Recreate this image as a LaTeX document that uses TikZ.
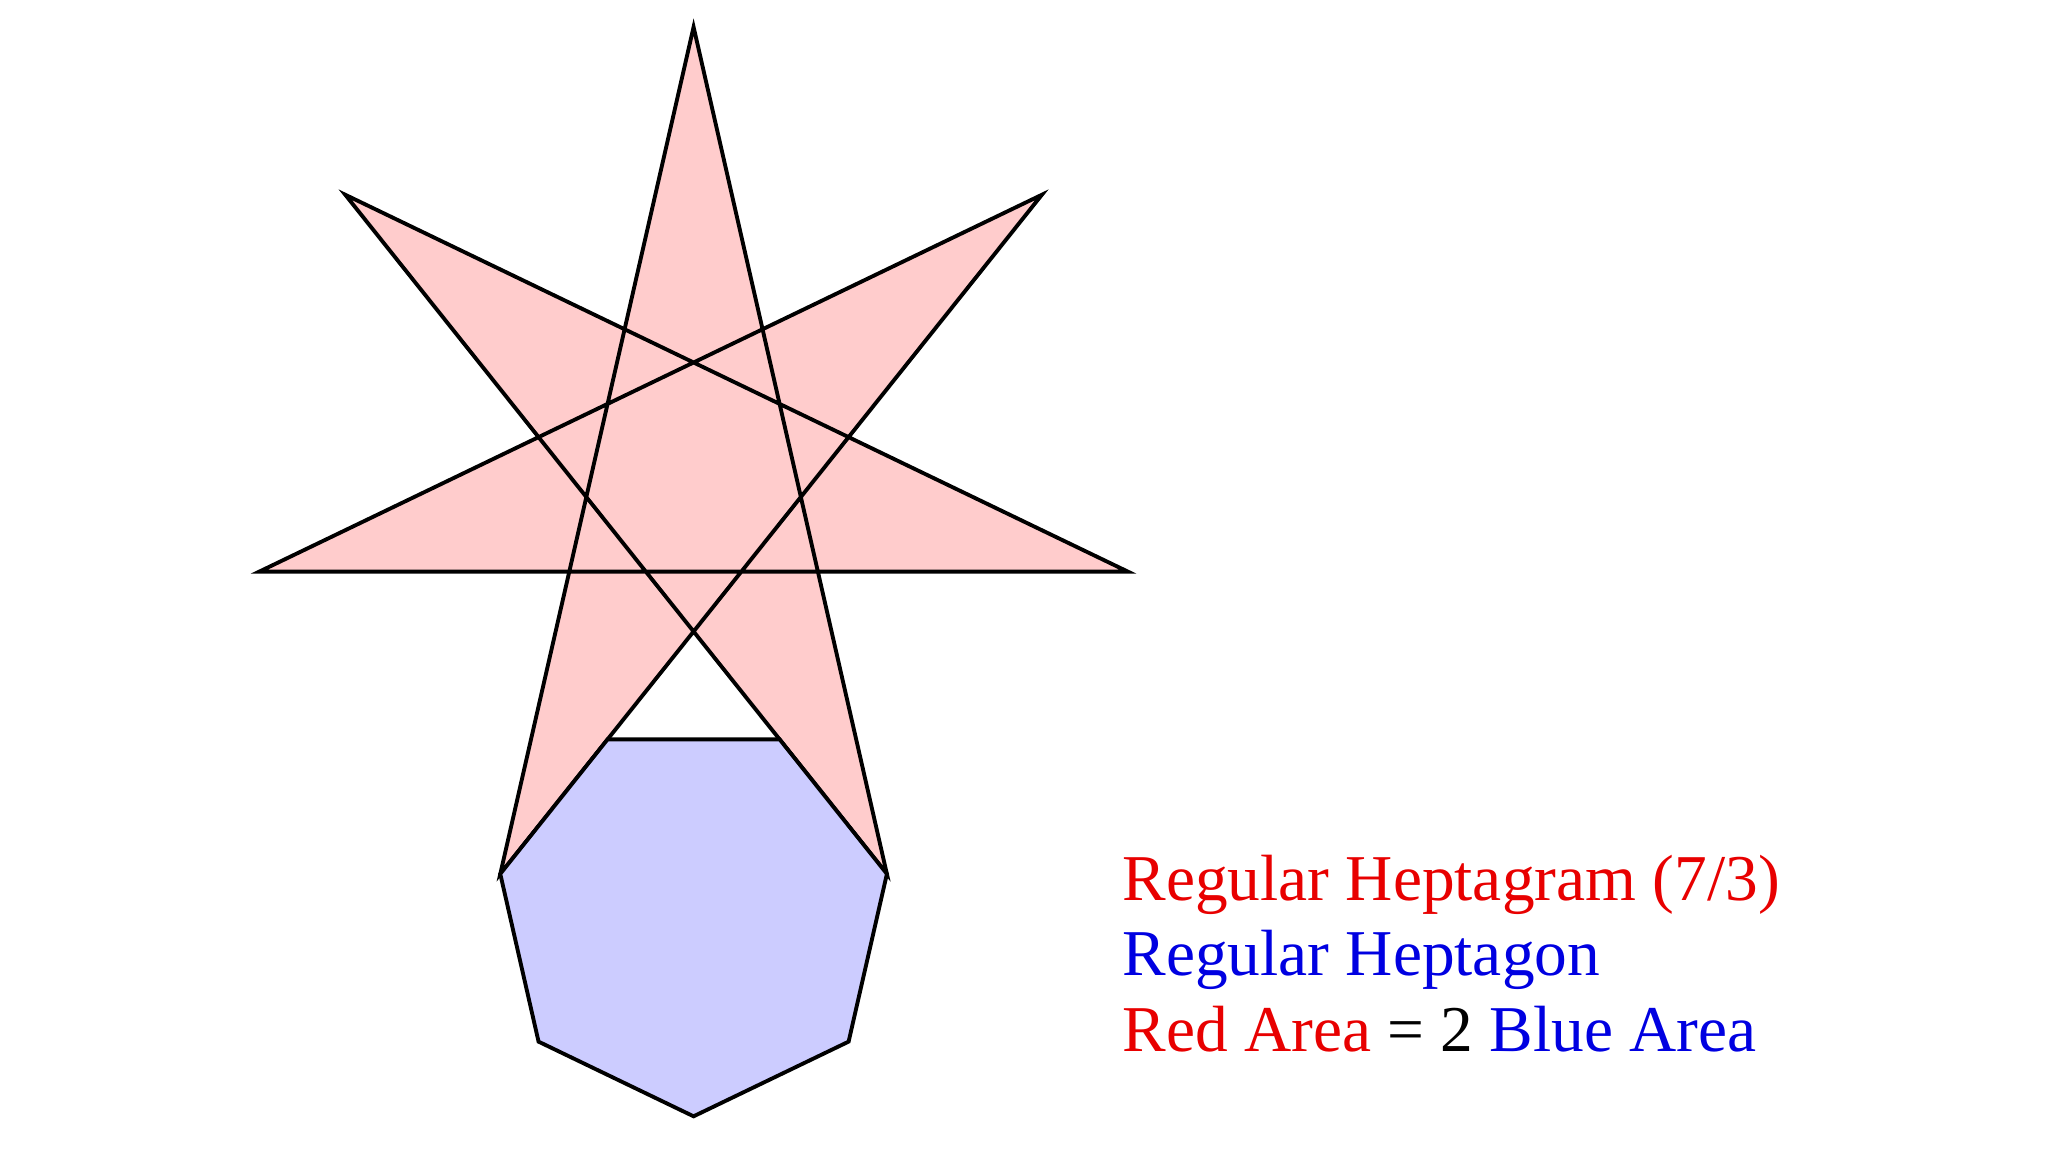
\documentclass[tikz,border=0pt]{standalone}
\usepackage{fontspec}
\setmainfont{Liberation Serif}
\usetikzlibrary{calc}
\definecolor{starpink}{RGB}{255,204,204}
\definecolor{heptblue}{RGB}{204,204,255}
\definecolor{txtred}{RGB}{232,0,0}
\definecolor{txtblue}{RGB}{0,0,225}
\tikzset{
	edge/.style={draw=black,line width=1.1pt,line join=miter},
	textline/.style={anchor=base west,inner sep=0pt,font=\fontsize{18.6}{22}\selectfont},
}

\begin{document}
\begin{tikzpicture}
	\useasboundingbox (-6.989,-6.752) rectangle (13.491,4.765);
	\coordinate (c) at (-0.053,0.04);
	\foreach \k in {0,...,6}
		\coordinate (s\k) at ($(c)+({90+\k*360/7}:4.455)$);
	\foreach \k in {0,...,6}
		\coordinate (h\k) at ($(c)+(0,-4.455)+({-90+\k*360/7}:1.983)$);
	\filldraw[edge,fill=starpink] (s0)--(s3)--(s6)--(s2)--(s5)--(s1)--(s4)--cycle;
	\filldraw[edge,fill=heptblue] (h0)--(h1)--(h2)--(h3)--(h4)--(h5)--(h6)--cycle;
	\node[textline,text=txtred] (heptagram) at (4.23,-4.24) {Regular Heptagram (7/3)};
	\node[textline,text=txtblue] (heptagon) at (4.23,-4.99) {Regular Heptagon};
	\node[textline] (areas) at (4.23,-5.75) {\textcolor{txtred}{Red Area} = 2 \textcolor{txtblue}{Blue Area}};
\end{tikzpicture}
\end{document}
